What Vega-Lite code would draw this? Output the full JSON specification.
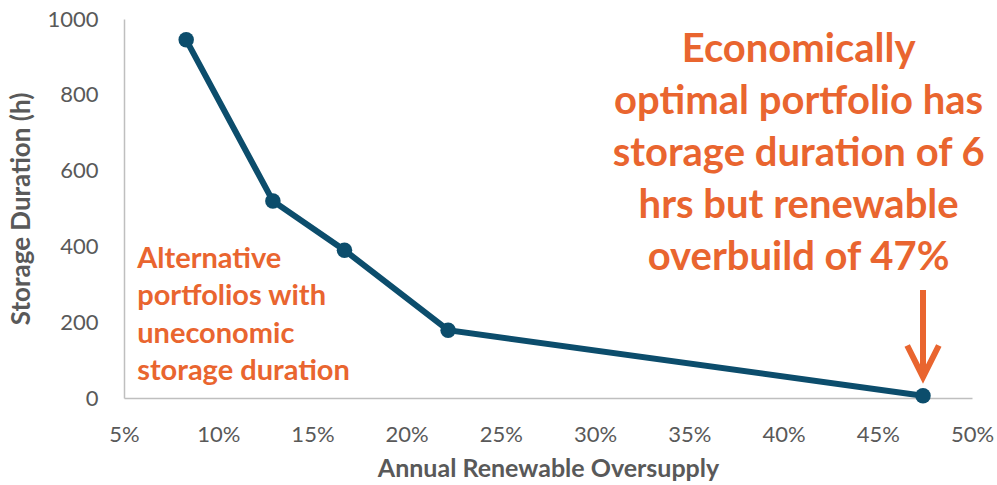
{
  "$schema": "https://vega.github.io/schema/vega-lite/v6.json",
  "width": 848,
  "height": 379,
  "autosize": "none",
  "padding": {"left": 124, "top": 19, "right": 25, "bottom": 87},
  "background": "white",
  "config": {
    "view": {"stroke": null},
    "font": "Lato"
  },
  "datasets": {
    "pts": [
      {"oversupply": 0.083, "duration": 945},
      {"oversupply": 0.129, "duration": 520},
      {"oversupply": 0.167, "duration": 390},
      {"oversupply": 0.222, "duration": 179},
      {"oversupply": 0.474, "duration": 6}
    ],
    "notes": [
      {"x": 0.057, "y": 367, "label": ["Alternative", "portfolios with", "uneconomic", "storage duration"], "kind": "left"},
      {"x": 0.408, "y": 918, "label": ["Economically", "optimal portfolio has", "storage duration of 6", "hrs but renewable", "overbuild of 47%"], "kind": "right"}
    ],
    "arrow": [
      {"x": 0.474, "y1": 285, "y2": 62, "tip": 55}
    ]
  },
  "layer": [
    {
      "data": {"name": "pts"},
      "mark": {"type": "line", "color": "#0C4D6C", "strokeWidth": 6, "point": {"filled": true, "size": 240, "color": "#0C4D6C", "opacity": 1}},
      "encoding": {
        "x": {
          "field": "oversupply", "type": "quantitative",
          "scale": {"domain": [0.05, 0.5], "nice": false, "zero": false},
          "axis": {
            "title": "Annual Renewable Oversupply",
            "format": ".0%",
            "values": [0.05, 0.1, 0.15, 0.2, 0.25, 0.3, 0.35, 0.4, 0.45, 0.5],
            "grid": false, "ticks": false,
            "domainColor": "#BFBFBF", "domainWidth": 1.5,
            "labelFont": "Lato", "labelFontSize": 22, "labelColor": "#595959",
            "labelPadding": 26, "labelFlush": false,
            "titleFont": "Lato", "titleFontSize": 25, "titleFontWeight": "bold", "titleColor": "#595959",
            "titlePadding": 11
          }
        },
        "y": {
          "field": "duration", "type": "quantitative",
          "scale": {"domain": [0, 1000], "nice": false},
          "axis": {
            "title": "Storage Duration (h)",
            "format": "d",
            "values": [0, 200, 400, 600, 800, 1000],
            "grid": false, "ticks": false,
            "domainColor": "#BFBFBF", "domainWidth": 1.5,
            "labelFont": "Lato", "labelFontSize": 22, "labelColor": "#595959",
            "labelPadding": 26,
            "titleFont": "Lato", "titleFontSize": 26, "titleFontWeight": "bold", "titleColor": "#595959",
            "titlePadding": 12
          }
        }
      }
    },
    {
      "data": {"name": "notes"},
      "transform": [{"filter": "datum.kind == 'left'"}],
      "mark": {"type": "text", "align": "left", "baseline": "middle", "font": "Lato", "fontWeight": "bold", "fontSize": 29, "lineHeight": 37.5, "color": "#E9652F"},
      "encoding": {
        "x": {"field": "x", "type": "quantitative"},
        "y": {"field": "y", "type": "quantitative"},
        "text": {"field": "label"}
      }
    },
    {
      "data": {"name": "notes"},
      "transform": [{"filter": "datum.kind == 'right'"}],
      "mark": {"type": "text", "align": "center", "baseline": "middle", "font": "Lato", "fontWeight": "bold", "fontSize": 40, "lineHeight": 52, "color": "#E9652F"},
      "encoding": {
        "x": {"field": "x", "type": "quantitative"},
        "y": {"field": "y", "type": "quantitative"},
        "text": {"field": "label"}
      }
    },
    {
      "data": {"name": "arrow"},
      "mark": {"type": "rule", "color": "#E9652F", "strokeWidth": 6},
      "encoding": {
        "x": {"field": "x", "type": "quantitative"},
        "y": {"field": "y1", "type": "quantitative"},
        "y2": {"field": "y2"}
      }
    },
    {
      "data": {"name": "arrow"},
      "mark": {"type": "point", "shape": "M -1 -2 L 0 0 L 1 -2", "size": 1000, "filled": false, "stroke": "#E9652F", "strokeWidth": 6, "strokeJoin": "miter", "opacity": 1},
      "encoding": {
        "x": {"field": "x", "type": "quantitative"},
        "y": {"field": "tip", "type": "quantitative"}
      }
    }
  ]
}
